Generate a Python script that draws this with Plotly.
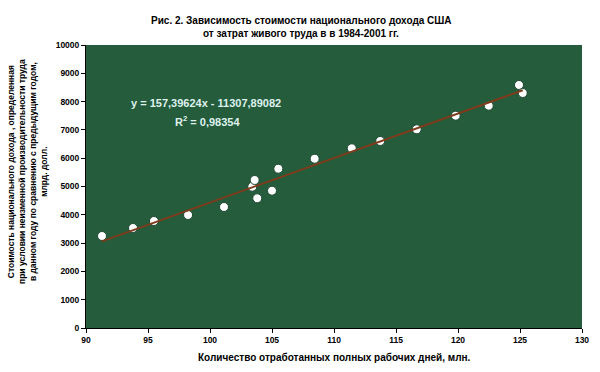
import plotly.graph_objects as go

# Data (1984-2001)
workdays = [91.29, 93.79, 95.48, 98.23, 101.13, 103.41, 103.60, 103.81, 105.00,
            105.51, 108.44, 111.43, 113.73, 116.67, 119.81, 122.48, 124.92, 125.22]
income = [3251, 3534, 3781, 3993, 4276, 4993, 5230, 4583, 4852,
          5629, 5982, 6350, 6608, 7021, 7502, 7855, 8587, 8304]

slope = 157.39624
intercept = -11307.89082
r_squared = 0.98354

x_ticks = [90, 95, 100, 105, 110, 115, 120, 125, 130]
y_ticks = [0, 1000, 2000, 3000, 4000, 5000, 6000, 7000, 8000, 9000, 10000]

title_lines = ["Рис. 2. Зависимость стоимости национального дохода США",
               "от затрат живого труда в в 1984-2001 гг."]
x_title = "Количество отработанных полных рабочих дней, млн."
y_title_lines = ["Стоимость национального дохода , определенная",
                 "при условии неизменной производительности труда",
                 "в данном году по сравнению с предыдущим годом,",
                 "млрд. долл."]

FONT = "Arial, Liberation Sans, sans-serif"
W, H = 600, 372
L, R, T, B = 86, 18, 45, 44
PW, PH = W - L - R, H - T - B


def px(xp):
    return (xp - L) / PW


def py(yp):
    return (H - B - yp) / PH


trend_x = [min(workdays), max(workdays)]
trend_y = [slope * v + intercept for v in trend_x]

fig = go.Figure()
fig.add_trace(go.Scatter(
    x=workdays, y=income, mode="markers",
    marker=dict(size=9, color="white", line=dict(color="#1d4630", width=1)),
    showlegend=False, cliponaxis=False))
fig.add_trace(go.Scatter(
    x=trend_x, y=trend_y, mode="lines",
    line=dict(color="#7e3c1c", width=2), showlegend=False))

eq_text = "y = " + f"{slope:.5f}".replace(".", ",") + "x - " + f"{-intercept:.5f}".replace(".", ",")
r_text = "R<sup>2</sup> = " + f"{r_squared:.5f}".replace(".", ",")


def ann(x, y, text, font, angle=0):
    fig.add_annotation(x=px(x), y=py(y), xref="paper", yref="paper", text=text,
                       xanchor="center", yanchor="middle", textangle=angle,
                       showarrow=False, font=font)


ann_font = dict(family=FONT, size=11, color="#dff2ee", weight="bold")
ann(206, 103, eq_text, ann_font)
ann(207, 121, r_text, ann_font)

tfont = dict(family=FONT, size=10, color="black", weight="bold")
ann(301, 20, title_lines[0], tfont)
ann(301, 34, title_lines[1], tfont)

ann(334, 357, x_title, dict(family=FONT, size=10, color="black", weight="bold"))
ann(27, 172, "<br>".join(y_title_lines),
    dict(family=FONT, size=8.5, color="black", weight="bold"), angle=-90)

tick_font = dict(family=FONT, size=8.5, color="black", weight="bold")
fig.update_layout(
    width=W, height=H,
    margin=dict(l=L, r=R, t=T, b=B, autoexpand=False),
    paper_bgcolor="white",
    plot_bgcolor="#245c3c",
    font=dict(family=FONT, color="black"),
    xaxis=dict(
        range=[90, 130], tickvals=x_ticks, ticktext=[str(v) for v in x_ticks],
        ticks="outside", ticklen=4, tickcolor="black",
        showline=True, linecolor="black", linewidth=1,
        showgrid=False, zeroline=False, automargin=False, tickfont=tick_font),
    yaxis=dict(
        range=[0, 10000], tickvals=y_ticks, ticktext=[str(v) for v in y_ticks],
        ticks="outside", ticklen=4, tickcolor="black",
        showline=True, linecolor="black", linewidth=1,
        showgrid=False, zeroline=False, automargin=False, tickfont=tick_font),
)

fig.write_html("out.html", config={"displayModeBar": False},
               post_script="document.body.style.margin='0';")
